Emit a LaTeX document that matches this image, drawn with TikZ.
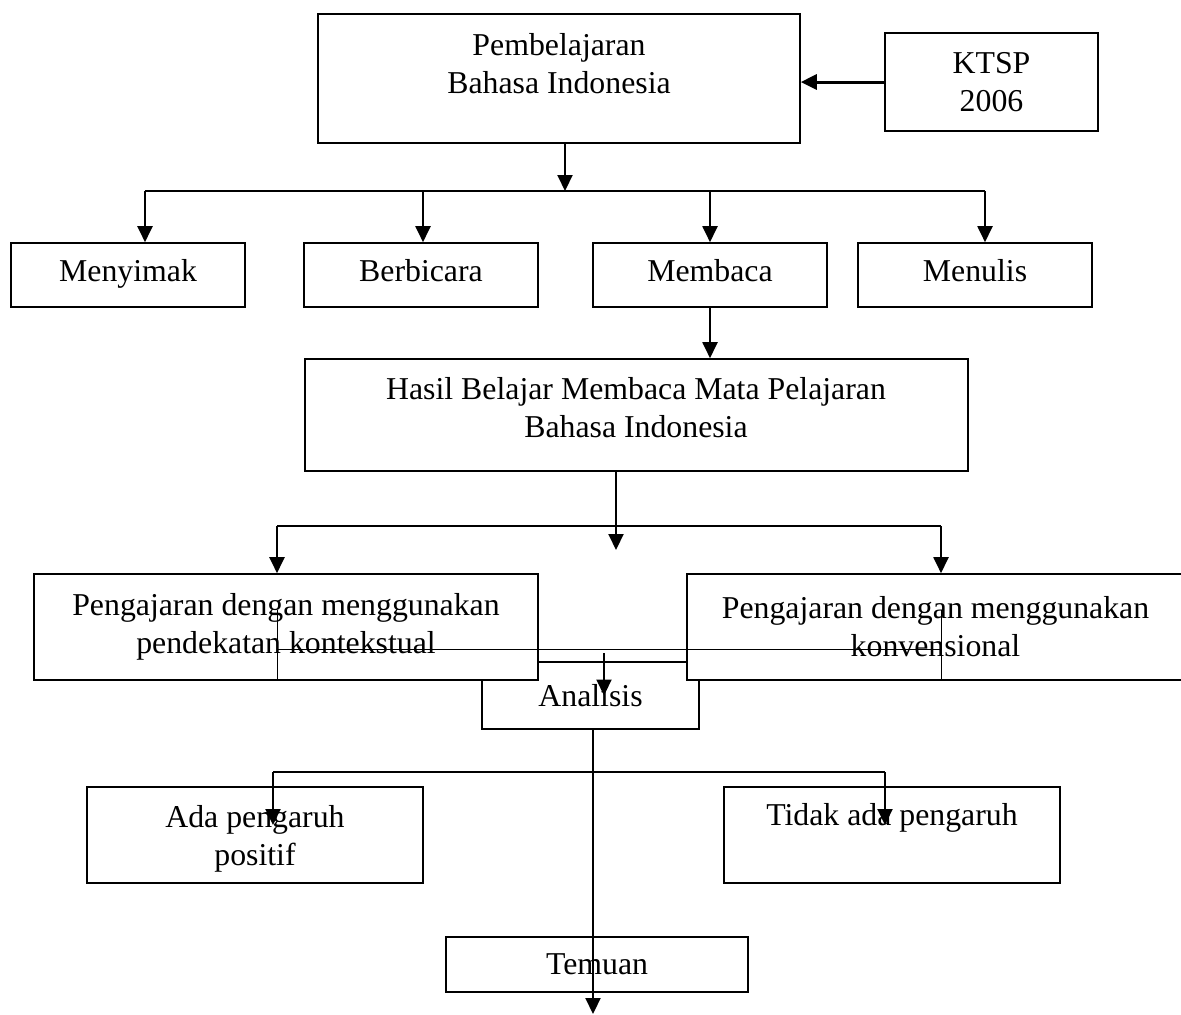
\documentclass[tikz,border=0pt]{standalone}
\usepackage{fontspec}
\setmainfont{Liberation Serif}
\usetikzlibrary{arrows.meta,calc,positioning}
\tikzstyle{box} = [draw, rectangle, fill=white, line width=0.8pt, inner sep=0pt, align=center, font=\fontsize{15.9}{19}\selectfont]
\tikzstyle{skill} = [box, minimum width=117pt, minimum height=32pt, text height=0.68em, text depth=0.08em]
\tikzstyle{word} = [inner sep=0pt, align=center, font=\fontsize{15.9}{19}\selectfont]
\tikzstyle{line} = [draw, line width=1pt, -{Triangle[length=8pt,width=7.5pt]}]
\tikzstyle{wire} = [draw, line width=1pt]
\tikzstyle{hair} = [draw, line width=0.5pt]

\begin{document}
\begin{tikzpicture}[x=0.5pt,y=-0.5pt]
	\useasboundingbox (0,0) rectangle (1181,1014);

	\node [box, minimum width=241pt, minimum height=64.5pt] at (559,78.5) (pemb) {};
	\node [word] at (559,64) (pembtext) {Pembelajaran\\Bahasa Indonesia};
	\node [box, minimum width=106.5pt, minimum height=49pt] at (991.5,82) (ktsp) {KTSP\\2006};

	\node [skill] at (128,275) (menyimak) {Menyimak};
	\node [skill] at (421,275) (berbicara) {Berbicara};
	\node [skill] at (710,275) (membaca) {Membaca};
	\node [skill] at (975,275) (menulis) {Menulis};

	\node [box, minimum width=331.5pt, minimum height=56pt] at (636.5,415) (hasil) {};
	\node [word] at (636,408) (hasiltext) {Hasil Belajar Membaca Mata Pelajaran\\Bahasa Indonesia};

	% analisis sits under the two boxes
	\node [box, minimum width=108.5pt, minimum height=33.5pt] at (590.5,695.5) (analisis) {Analisis};
	\node [box, minimum width=252pt, minimum height=53pt] at (286,627) (kontekstual) {Pengajaran dengan menggunakan\\pendekatan kontekstual};
	\node [box, minimum width=248.5pt, minimum height=53pt] at (935.5,627) (konvensional) {Pengajaran dengan menggunakan\\konvensional};

	\node [box, minimum width=168pt, minimum height=48pt] at (255,835) (positif) {};
	\node [word] at (255,839) (positiftext) {Ada pengaruh\\positif};
	\node [box, minimum width=168pt, minimum height=48pt] at (892,835) (tidak) {};
	\node [word] at (892,818) (tidaktext) {Tidak ada pengaruh};
	\node [box, minimum width=151pt, minimum height=27.5pt] at (597,964.5) (temuan) {Temuan};

	\coordinate (split) at (565,191);
	\coordinate (d1) at (145,191);
	\coordinate (d2) at (423,191);
	\coordinate (d3) at (710,191);
	\coordinate (d4) at (985,191);
	\coordinate (hend) at (616,550);
	\coordinate (s1) at (277,526);
	\coordinate (s2) at (941,526);
	\coordinate (t1) at (277,610);
	\coordinate (t2) at (941,610);
	\coordinate (m1) at (277,649);
	\coordinate (m2) at (941,649);
	\coordinate (a0) at (604,653);
	\coordinate (b1) at (273,772);
	\coordinate (b2) at (885,772);
	\coordinate (b1end) at (273,825);
	\coordinate (b2end) at (885,825);
	\coordinate (end) at (593,1014);

	\path [line, line width=1.5pt] (ktsp.west) -- (ktsp.west -| pemb.east);
	\path [line] (pemb.south -| split) -- (split);
	\draw [wire] (d1) -- (d4);
	\path [line] (d1) -- (d1 |- menyimak.north);
	\path [line] (d2) -- (d2 |- berbicara.north);
	\path [line] (d3) -- (d3 |- membaca.north);
	\path [line] (d4) -- (d4 |- menulis.north);

	\path [line] (membaca.south) -- (membaca.south |- hasil.north);
	\path [line] (hasil.south -| hend) -- (hend);
	\draw [wire] (s1) -- (s2);
	\path [line] (s1) -- (s1 |- kontekstual.north);
	\path [line] (s2) -- (s2 |- konvensional.north);

	\draw [hair] (t1) -- (t1 |- kontekstual.south);
	\draw [hair] (t2) -- (t2 |- konvensional.south);
	\draw [hair] (m1) -- (m2);
	\path [line] (a0) -- (a0 |- analisis.center);

	\path [line] (analisis.south -| end) -- (end);
	\draw [wire] (b1) -- (b2);
	\path [line] (b1) -- (b1end);
	\path [line] (b2) -- (b2end);
\end{tikzpicture}
\end{document}
